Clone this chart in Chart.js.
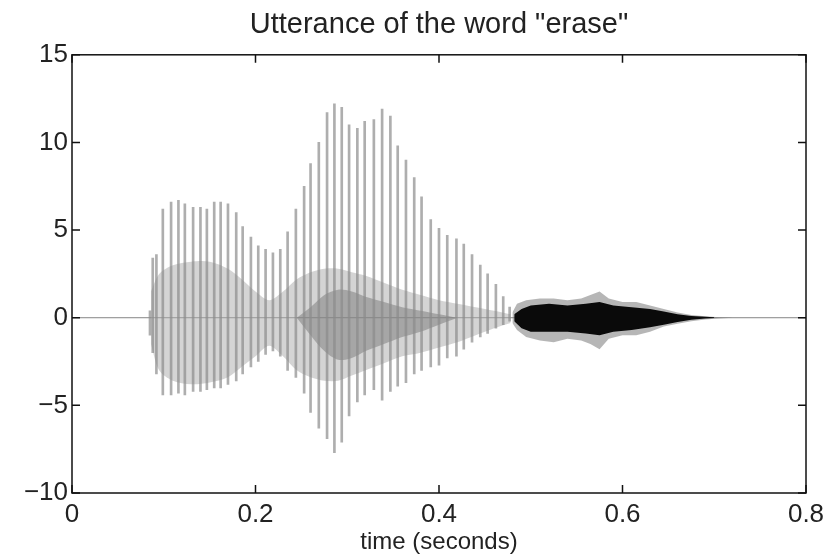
<!DOCTYPE html>
<html>
<head>
<meta charset="utf-8">
<script src="https://cdn.jsdelivr.net/npm/chart.js@4/dist/chart.umd.min.js"></script>
<style>
  body { margin: 0; background: #fff; }
  #wave { display: block; }
</style>
</head>
<body>
<canvas id="wave" width="831" height="559"></canvas>
<script>
// voiced part: one entry per glottal pulse (time, positive peak, negative peak)
var pulseTimes = [0.085, 0.088, 0.092, 0.099, 0.108, 0.116, 0.123, 0.132, 0.140, 0.147,
                  0.155, 0.162, 0.170, 0.179, 0.186, 0.195, 0.203, 0.211, 0.219, 0.227,
                  0.235, 0.244, 0.253, 0.260, 0.269, 0.278, 0.286, 0.294, 0.302, 0.311,
                  0.319, 0.329, 0.338, 0.347, 0.355, 0.364, 0.373, 0.381, 0.391, 0.400,
                  0.409, 0.419, 0.427, 0.436, 0.445, 0.453, 0.462, 0.470, 0.477];
var pulseHigh = [0.4, 3.4, 3.6, 6.2, 6.6, 6.7, 6.5, 6.3, 6.3, 6.2,
                 6.6, 6.6, 6.5, 6.0, 5.2, 4.6, 4.1, 3.9, 3.7, 3.9,
                 4.9, 6.2, 7.5, 8.8, 10.0, 11.7, 12.2, 12.0, 11.0, 10.8,
                 11.2, 11.3, 11.9, 11.5, 9.8, 9.0, 8.0, 6.9, 5.6, 5.1,
                 4.7, 4.5, 4.2, 3.6, 3.0, 2.5, 1.9, 1.2, 0.6];
var pulseLow = [-1.0, -2.0, -3.2, -4.4, -4.4, -4.3, -4.4, -4.2, -4.2, -4.1,
                -4.0, -4.0, -3.8, -3.6, -3.2, -2.8, -2.5, -2.1, -1.9, -2.2,
                -3.0, -3.4, -4.3, -5.4, -6.3, -6.9, -7.7, -7.1, -5.6, -4.8,
                -4.4, -4.1, -4.7, -4.2, -3.9, -3.7, -3.2, -3.0, -2.8, -2.7,
                -2.3, -2.2, -1.8, -1.4, -1.1, -0.9, -0.6, -0.4, -0.2];

// dense grey body of the vowels (ringing between pulses)
var coreTimes = [0.086, 0.095, 0.110, 0.130, 0.150, 0.170, 0.185, 0.200, 0.215, 0.230,
                 0.245, 0.260, 0.275, 0.290, 0.305, 0.320, 0.340, 0.360, 0.380, 0.400,
                 0.420, 0.440, 0.460, 0.478];
var coreHigh = [1.5, 2.5, 3.0, 3.2, 3.2, 2.8, 2.2, 1.5, 1.0, 1.5,
                2.2, 2.6, 2.8, 2.8, 2.6, 2.4, 2.0, 1.6, 1.3, 1.0,
                0.8, 0.6, 0.4, 0.2];
var coreLow = [-1.5, -3.0, -3.6, -3.8, -3.7, -3.4, -2.8, -2.2, -1.6, -2.2,
               -3.0, -3.4, -3.6, -3.6, -3.3, -3.0, -2.6, -2.2, -2.0, -1.7,
               -1.4, -1.0, -0.6, -0.3];

// darker overlap in the middle of the second vowel
var darkTimes = [0.245, 0.260, 0.275, 0.290, 0.305, 0.320, 0.340, 0.360, 0.380, 0.400, 0.420];
var darkHigh = [0.0, 0.6, 1.3, 1.6, 1.5, 1.2, 0.9, 0.6, 0.4, 0.2, 0.0];
var darkLow = [0.0, -1.0, -1.9, -2.4, -2.3, -1.9, -1.5, -1.1, -0.8, -0.4, 0.0];

// the "s" fricative: outer grey envelope and black inner band
var noiseTimes = [0.480, 0.485, 0.495, 0.510, 0.525, 0.540, 0.555, 0.565, 0.575, 0.585,
                  0.600, 0.615, 0.630, 0.645, 0.660, 0.675, 0.690, 0.705, 0.720];
var noiseHigh = [0.3, 0.8, 1.0, 1.1, 1.1, 1.0, 1.1, 1.3, 1.5, 1.1,
                 0.9, 0.9, 0.7, 0.5, 0.3, 0.15, 0.08, 0.03, 0];
var noiseLow = [-0.3, -0.7, -1.1, -1.3, -1.4, -1.2, -1.3, -1.5, -1.8, -1.2,
                -1.0, -1.0, -0.8, -0.5, -0.35, -0.2, -0.1, -0.04, 0];
var innerTimes = [0.482, 0.490, 0.500, 0.520, 0.540, 0.560, 0.575, 0.590, 0.610, 0.630,
                  0.645, 0.660, 0.675, 0.690, 0.700];
var innerHigh = [0.2, 0.5, 0.7, 0.8, 0.7, 0.8, 0.9, 0.7, 0.6, 0.5,
                 0.35, 0.2, 0.1, 0.05, 0.02];
var innerLow = [-0.2, -0.6, -0.8, -0.8, -0.8, -0.9, -1.0, -0.8, -0.7, -0.55,
                -0.4, -0.25, -0.12, -0.05, -0.02];

var xTicks = [0, 0.2, 0.4, 0.6, 0.8];
var yTicks = [-10, -5, 0, 5, 10, 15];

function pts(ts, vs) {
  return ts.map(function(t, i) { return {x: t, y: vs[i]}; });
}

var FONT = "'Liberation Sans', Arial, sans-serif";

// MATLAB style box with inward ticks
var boxTicks = {
  id: 'boxTicks',
  afterDraw: function(chart) {
    var c = chart.ctx, a = chart.chartArea;
    var sx = chart.scales.x, sy = chart.scales.y, L = 8;
    c.save();
    c.strokeStyle = '#111';
    c.lineWidth = 1.5;
    c.strokeRect(a.left, a.top, a.right - a.left, a.bottom - a.top);
    c.beginPath();
    xTicks.forEach(function(v) {
      var px = sx.getPixelForValue(v);
      c.moveTo(px, a.bottom); c.lineTo(px, a.bottom - L);
      c.moveTo(px, a.top); c.lineTo(px, a.top + L);
    });
    yTicks.forEach(function(v) {
      var py = sy.getPixelForValue(v);
      c.moveTo(a.left, py); c.lineTo(a.left + L, py);
      c.moveTo(a.right, py); c.lineTo(a.right - L, py);
    });
    c.stroke();
    c.restore();
  }
};

new Chart(document.getElementById('wave'), {
  type: 'bar',
  data: {
    datasets: [
      {type: 'line', data: [{x: 0, y: 0}, {x: 0.8, y: 0}], borderColor: 'rgba(120,120,120,0.9)',
       borderWidth: 1, pointRadius: 0, order: 6},
      {type: 'line', data: pts(coreTimes, coreHigh), borderWidth: 0, pointRadius: 0,
       fill: '+1', backgroundColor: 'rgba(170,170,170,0.5)', tension: 0.3, order: 5},
      {type: 'line', data: pts(coreTimes, coreLow), borderWidth: 0, pointRadius: 0,
       tension: 0.3, order: 5},
      {type: 'line', data: pts(darkTimes, darkHigh), borderWidth: 0, pointRadius: 0,
       fill: '+1', backgroundColor: 'rgba(110,110,110,0.45)', tension: 0.3, order: 4},
      {type: 'line', data: pts(darkTimes, darkLow), borderWidth: 0, pointRadius: 0,
       tension: 0.3, order: 4},
      {type: 'bar', data: pulseTimes.map(function(t, i) { return {x: t, y: [pulseLow[i], pulseHigh[i]]}; }),
       backgroundColor: 'rgba(140,140,140,0.7)', barThickness: 2, order: 3},
      {type: 'line', data: pts(noiseTimes, noiseHigh), borderWidth: 0, pointRadius: 0,
       fill: '+1', backgroundColor: 'rgba(110,110,110,0.5)', order: 2},
      {type: 'line', data: pts(noiseTimes, noiseLow), borderWidth: 0, pointRadius: 0, order: 2},
      {type: 'line', data: pts(innerTimes, innerHigh), borderWidth: 0, pointRadius: 0,
       fill: '+1', backgroundColor: '#0a0a0a', order: 1},
      {type: 'line', data: pts(innerTimes, innerLow), borderWidth: 0, pointRadius: 0, order: 1}
    ]
  },
  options: {
    responsive: false,
    animation: false,
    devicePixelRatio: 1,
    layout: {padding: {left: 0, right: 25, top: 0, bottom: 0}},
    plugins: {
      legend: {display: false},
      tooltip: {enabled: false},
      title: {
        display: true,
        fullSize: false, // centre over the plot box, not the canvas
        text: 'Utterance of the word "erase"',
        color: '#222',
        font: {family: FONT, size: 29, weight: 'normal'},
        padding: {top: 8, bottom: 12}
      }
    },
    scales: {
      x: {
        type: 'linear', min: 0, max: 0.8, offset: false,
        afterBuildTicks: function(s) { s.ticks = xTicks.map(function(v) { return {value: v}; }); },
        afterFit: function(s) { s.height = 66; },
        grid: {display: false, drawTicks: false, offset: false},
        border: {display: false},
        ticks: {color: '#222', padding: 6, maxRotation: 0, font: {family: FONT, size: 26}},
        title: {display: true, text: 'time (seconds)', color: '#222', padding: {top: 0, bottom: 2},
                font: {family: FONT, size: 24}}
      },
      y: {
        min: -10, max: 15,
        afterBuildTicks: function(s) { s.ticks = yTicks.map(function(v) { return {value: v}; }); },
        afterFit: function(s) { s.width = 72; },
        grid: {display: false, drawTicks: false},
        border: {display: false},
        ticks: {color: '#222', padding: 4, font: {family: FONT, size: 26},
                callback: function(v) { return String(v).replace('-', '\u2212'); }}
      }
    }
  },
  plugins: [boxTicks]
});
</script>
</body>
</html>
